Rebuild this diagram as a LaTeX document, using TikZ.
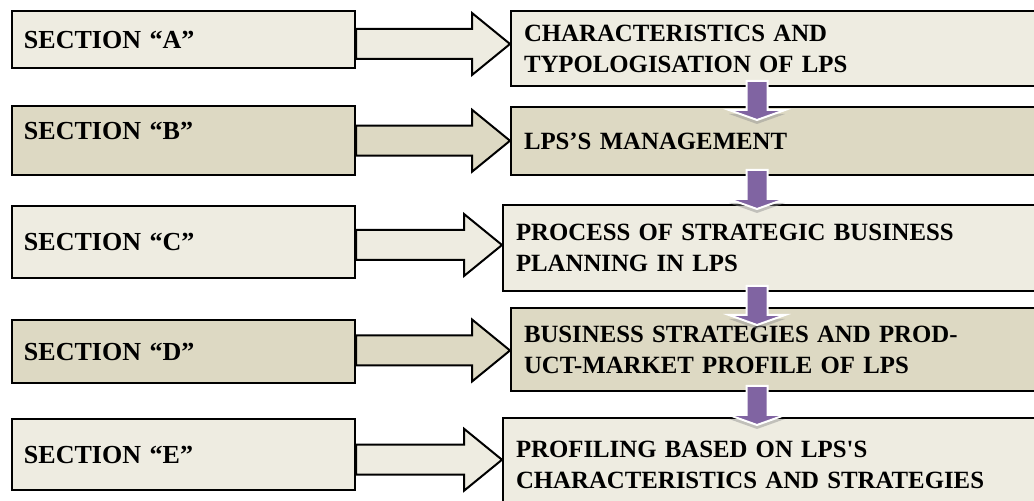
\documentclass[tikz,border=0pt]{standalone}
\usepackage{fontspec}
\setmainfont{Liberation Serif}[Ligatures=TeXOff]
\usetikzlibrary{calc}
\definecolor{tanlight}{HTML}{EEECE1}
\definecolor{tandark}{HTML}{DDD9C3}
\definecolor{flowpurple}{HTML}{8064A2}

\begin{document}
\begin{tikzpicture}[x=0.5pt,y=-0.5pt,
  section node/.style={draw,line width=1pt,anchor=north west,align=left,text width=159.5pt,
    inner xsep=6pt,font=\fontsize{13}{15.5}\selectfont\bfseries},
  topic node/.style={draw,line width=1pt,anchor=north west,align=left,text width=254.5pt,
    inner xsep=6.5pt,font=\fontsize{12.4}{15.5}\selectfont\bfseries},
  block arrow/.style={draw=black,line width=1pt,line join=miter,
    to path={let \p1=(\tikztostart.east), \p2=(\tikztotarget.west),
      \p3=($(\tikztostart.east)!.5!(\tikztotarget.west)$) in
      (\x1,\y3+7.5pt) -- (\x2-19pt,\y3+7.5pt) -- (\x2-19pt,\y3+15.5pt) -- (\x2,\y3)
      -- (\x2-19pt,\y3-15.5pt) -- (\x2-19pt,\y3-7.5pt) -- (\x1,\y3-7.5pt) -- cycle}},
  down arrow/.style={fill=flowpurple,draw=white,line width=1pt,line join=miter,
    preaction={draw=none,fill=black!45,opacity=.45,transform canvas={yshift=-2pt}},
    to path={let \p1=(\tikztostart.south -| dcol) in
      (\x1-5.25pt,\y1+3pt) -- (\x1+5.25pt,\y1+3pt) -- (\x1+5.25pt,\y1-11.5pt)
      -- (\x1+14pt,\y1-11.5pt) -- (\x1,\y1-16.5pt) -- (\x1-14pt,\y1-11.5pt)
      -- (\x1-5.25pt,\y1-11.5pt) -- cycle}}]

  \path[use as bounding box,clip] (0,0) rectangle (1034,501);
  \coordinate (dcol) at (757,0);

  \node[section node,fill=tanlight,minimum height=28.5pt] (secA) at (11,10) {SECTION “A”};
  \node[section node,fill=tandark,minimum height=34.5pt,text depth=9.5pt] (secB) at (11,105) {SECTION “B”};
  \node[section node,fill=tanlight,minimum height=36pt] (secC) at (11,205) {SECTION “C”};
  \node[section node,fill=tandark,minimum height=31.5pt] (secD) at (11,319) {SECTION “D”};
  \node[section node,fill=tanlight,minimum height=35.5pt] (secE) at (11,418) {SECTION “E”};

  \node[topic node,fill=tanlight,minimum height=37.5pt] (topA) at (510,10) {CHARACTERISTICS AND\\TYPOLOGISATION OF LPS};
  \node[topic node,fill=tandark,minimum height=34pt] (topB) at (510,106) {LPS’S MANAGEMENT};
  \node[topic node,fill=tanlight,minimum height=43pt] (topC) at (502,204) {PROCESS OF STRATEGIC BUSINESS\\PLANNING IN LPS};
  \node[topic node,fill=tandark,minimum height=41.5pt] (topD) at (510,307) {BUSINESS STRATEGIES AND PROD-\\UCT-MARKET PROFILE OF LPS};
  \node[topic node,fill=tanlight,minimum height=47pt] (topE) at (502,417) {PROFILING BASED ON LPS'S\\CHARACTERISTICS AND STRATEGIES};

  \path
    (secA) edge[block arrow,fill=tanlight] (topA)
    (secB) edge[block arrow,fill=tandark] (topB)
    (secC) edge[block arrow,fill=tanlight] (topC)
    (secD) edge[block arrow,fill=tandark] (topD)
    (secE) edge[block arrow,fill=tanlight] (topE)
    (topA) edge[down arrow] (topB)
    (topB) edge[down arrow] (topC)
    (topC) edge[down arrow] (topD)
    (topD) edge[down arrow] (topE)
    ;
\end{tikzpicture}
\end{document}
